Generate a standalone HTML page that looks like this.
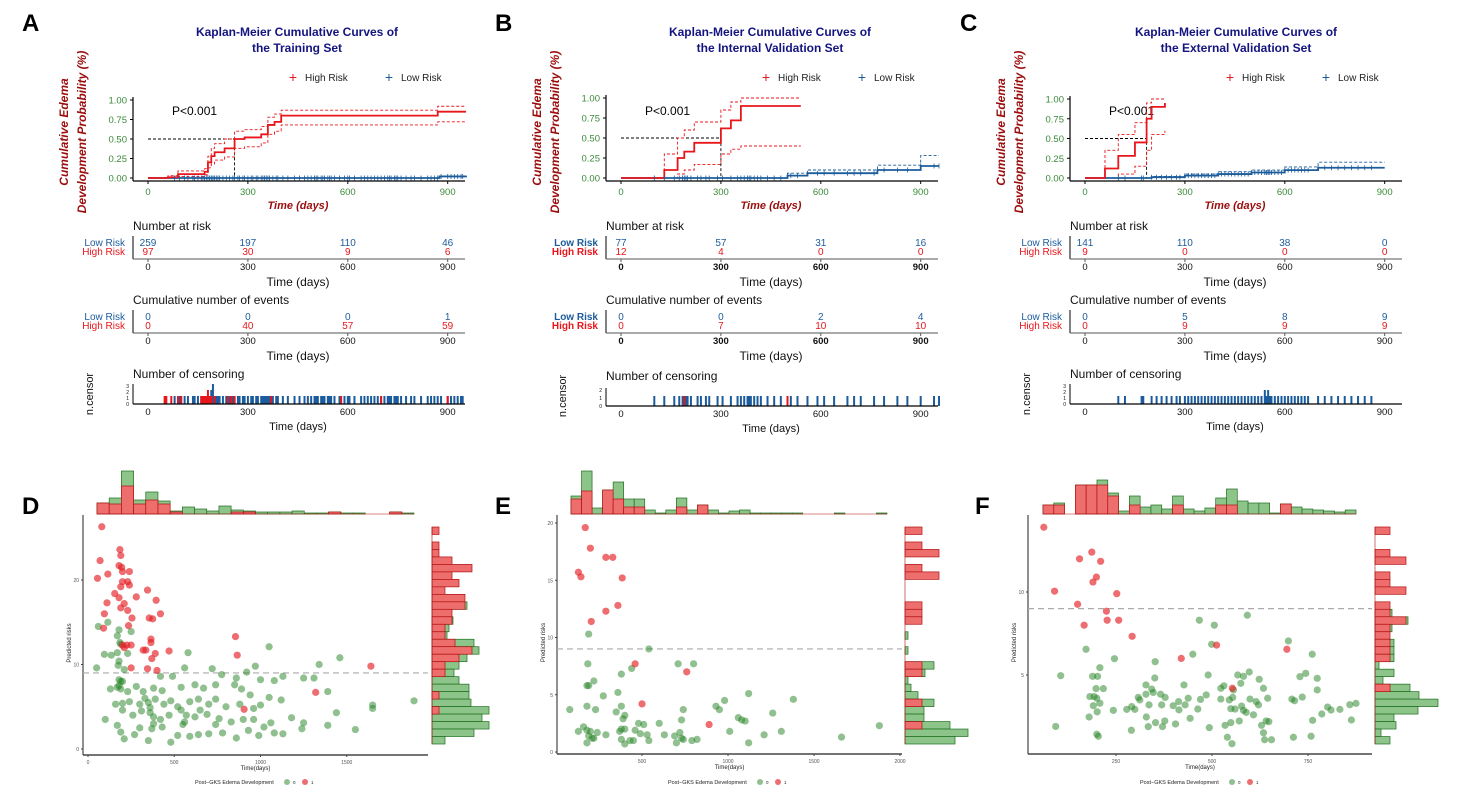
<!DOCTYPE html>
<html><head><meta charset="utf-8"><style>
html,body{margin:0;padding:0;background:#fff;}
svg{display:block;font-family:"Liberation Sans",Arial,sans-serif;}
</style></head><body>
<svg id="fig" width="1468" height="797" viewBox="0 0 1468 797" xmlns="http://www.w3.org/2000/svg">
<g font-weight="bold" font-size="24" fill="#000">
<text x="22" y="31">A</text>
<text x="495" y="31">B</text>
<text x="960" y="31">C</text>
<text x="22" y="514">D</text>
<text x="495" y="514">E</text>
<text x="975" y="514">F</text>
</g>
</svg>
<script>
// ---------- KM data ----------
const kmTitles = [["Kaplan-Meier Cumulative Curves of","the Training Set"],["Kaplan-Meier Cumulative Curves of","the Internal Validation Set"],["Kaplan-Meier Cumulative Curves of","the External Validation Set"]];
const yTicksKM = [0,0.25,0.5,0.75,1];
const yTickLabelsKM = ["0.00","0.25","0.50","0.75","1.00"];
const xTicksKM = [0,300,600,900];
const highA_t = [0,60,90,170,180,190,200,230,260,290,340,360,380,400,860,870,955];
const highA_p = [0,0.01,0.05,0.08,0.2,0.28,0.33,0.38,0.5,0.52,0.56,0.68,0.72,0.8,0.8,0.85,0.85];
const highA_up = [0,0.03,0.09,0.12,0.28,0.38,0.44,0.5,0.6,0.62,0.66,0.78,0.82,0.87,0.87,0.92,0.92];
const highA_lo = [0,0,0.02,0.04,0.13,0.18,0.23,0.27,0.38,0.4,0.45,0.56,0.6,0.68,0.68,0.72,0.72];
const lowA_t = [0,860,875,955]; const lowA_p = [0,0,0.02,0.03];
const highB_t = [0,130,170,190,220,300,330,360,540];
const highB_p = [0,0.1,0.25,0.33,0.44,0.62,0.72,0.9,0.9];
const highB_up = [0,0.3,0.5,0.6,0.7,0.85,0.95,1,1];
const highB_lo = [0,0,0.05,0.1,0.17,0.3,0.36,0.4,0.4];
const lowB_t = [0,500,560,770,900,955]; const lowB_p = [0,0.03,0.06,0.1,0.15,0.15];
const lowB_up = [0,0.06,0.1,0.16,0.28,0.28];
const highC_t = [0,60,100,150,185,200,240]; const highC_p = [0,0.12,0.28,0.45,0.75,0.9,0.95];
const highC_up = [0,0.35,0.55,0.7,0.95,1,1]; const highC_lo = [0,0,0.05,0.15,0.35,0.55,0.6];
const lowC_t = [0,200,300,400,500,600,700,900]; const lowC_p = [0,0.01,0.03,0.05,0.07,0.1,0.13,0.13];
const lowC_up = [0,0.02,0.05,0.08,0.1,0.14,0.2,0.2];
const medians = [260,300,185];
const riskLow = [[259,197,110,46],[77,57,31,16],[141,110,38,0]];
const riskHigh = [[97,30,9,6],[12,4,0,0],[9,0,0,0]];
const evLow = [[0,0,0,1],[0,0,2,4],[0,5,8,9]];
const evHigh = [[0,40,57,59],[0,7,10,10],[0,9,9,9]];
const censBlueA = [80,95,110,120,135,140,150,160,165,170,175,180,185,190,190,195,195,195,200,205,210,215,225,235,245,255,260,270,275,285,290,300,310,315,325,330,340,345,350,355,360,365,375,385,390,405,420,440,455,470,480,490,500,505,510,520,525,530,540,545,550,560,575,590,600,605,620,640,650,660,670,680,690,700,710,720,725,730,740,745,750,760,775,790,800,820,840,850,860,870,880,900,910,920,930,940,945];
const censRedA = [50,55,70,90,100,160,165,170,175,180,180,185,190,200,240,250,260,370,580,700,900];
const censBlueB = [100,130,160,175,185,190,195,200,210,230,240,255,265,290,305,330,350,360,370,380,385,390,400,410,420,440,460,480,500,510,530,560,590,610,640,680,700,720,760,790,830,860,900,940,955];
const censRedB = [190,500];
const censBlueC = [100,120,170,175,200,215,230,245,260,275,285,300,310,320,330,340,350,360,370,380,390,400,410,420,430,440,450,460,470,480,490,500,510,520,530,540,540,545,550,550,555,560,570,580,590,600,610,620,630,640,650,660,670,700,720,740,760,780,800,820,840,860];
const censRedC = [];

const NS="http://www.w3.org/2000/svg";
const fig=document.getElementById('fig');
function el(tag,attrs,parent,txt){const e=document.createElementNS(NS,tag);for(const k in attrs)e.setAttribute(k,attrs[k]);if(txt!==undefined)e.textContent=txt;(parent||fig).appendChild(e);return e;}
function stepPath(ts,ps,xs,ys){let d='M'+xs(ts[0])+','+ys(ps[0]);for(let i=1;i<ts.length;i++){d+=' H'+xs(ts[i])+' V'+ys(ps[i]);}return d;}

const kmCfg=[
 {ox:148,y1:100,hi:[highA_t,highA_p,highA_up,highA_lo],lo:[lowA_t,lowA_p,null],cb:censBlueA,cr:censRedA,cu:6,cmax:3,bold:false,title:297},
 {ox:621,y1:98,hi:[highB_t,highB_p,highB_up,highB_lo],lo:[lowB_t,lowB_p,lowB_up],cb:censBlueB,cr:censRedB,cu:8,cmax:2,bold:true,title:770},
 {ox:1085,y1:99,hi:[highC_t,highC_p,highC_up,highC_lo],lo:[lowC_t,lowC_p,lowC_up],cb:censBlueC,cr:censRedC,cu:6,cmax:3,bold:false,title:1236}
];
const RED="#e8161b",BLUE="#1c5c9c",GRN="#3a8a3a",DRED="#9b0d0d",NAVY="#141480";
kmCfg.forEach((c,pi)=>{
 const g=el('g',{});
 
 
 const xs=t=>c.ox+t*0.333, ys=p=>178-(178-c.y1)*p;
 const ax=c.ox-15, axR=c.ox+317;
 const tt=el('text',{x:c.title,y:36,'text-anchor':'middle','font-size':12,'font-weight':'bold',fill:NAVY},g,kmTitles[pi][0]);
 
 el('text',{x:c.title,y:52,'text-anchor':'middle','font-size':12,'font-weight':'bold',fill:NAVY},g,kmTitles[pi][1]);
 // legend
 const lg=el('g',{},g);
 el('text',{x:c.ox+145,y:82,'font-size':14,fill:RED,'text-anchor':'middle'},lg,'+');
 el('text',{x:c.ox+157,y:81,'font-size':10,fill:'#222'},lg,'High Risk');
 el('text',{x:c.ox+241,y:82,'font-size':14,fill:BLUE,'text-anchor':'middle'},lg,'+');
 el('text',{x:c.ox+253,y:81,'font-size':10,fill:'#222'},lg,'Low Risk');
 // y label
 const yl=el('text',{transform:`translate(${c.ox-80},132) rotate(-90)`,'text-anchor':'middle','font-size':12,'font-weight':'bold','font-style':'italic',fill:DRED},g,'Cumulative Edema');
 
 el('text',{transform:`translate(${c.ox-62},132) rotate(-90)`,'text-anchor':'middle','font-size':12,'font-weight':'bold','font-style':'italic',fill:DRED},g,'Development  Probability (%)');
 // axes
 el('line',{x1:ax,y1:c.y1-3,x2:ax,y2:181,stroke:'#000','stroke-width':1.2},g);
 el('line',{x1:ax,y1:181,x2:axR,y2:181,stroke:'#000','stroke-width':1.2},g);
 yTicksKM.forEach((v,i)=>{el('line',{x1:ax-3,y1:ys(v),x2:ax,y2:ys(v),stroke:'#000'},g);
  el('text',{x:ax-6,y:ys(v)+3.5,'text-anchor':'end','font-size':9.5,fill:GRN},g,yTickLabelsKM[i]);});
 xTicksKM.forEach(v=>{el('line',{x1:xs(v),y1:181,x2:xs(v),y2:184,stroke:'#000'},g);
  el('text',{x:xs(v),y:195,'text-anchor':'middle','font-size':9.5,fill:GRN},g,String(v));});
 el('text',{x:c.ox+150,y:209,'text-anchor':'middle','font-size':11,'font-weight':'bold','font-style':'italic',fill:DRED},g,'Time (days)');
 el('text',{x:c.ox+24,y:115,'font-size':12,fill:'#000'},g,'P<0.001');
 // median lines
 el('path',{d:`M${xs(0)},${ys(0.5)} H${xs(medians[pi])} V${ys(0)}`,fill:'none',stroke:'#000','stroke-dasharray':'3,2','stroke-width':0.9},g);
 // CIs
 const [ht,hp,hu,hl]=c.hi;
 el('path',{d:stepPath(ht,hu,xs,ys),fill:'none',stroke:RED,'stroke-dasharray':'3,2','stroke-width':0.9},g);
 el('path',{d:stepPath(ht,hl,xs,ys),fill:'none',stroke:RED,'stroke-dasharray':'3,2','stroke-width':0.9},g);
 const [lt,lp,lu]=c.lo;
 if(lu) el('path',{d:stepPath(lt,lu,xs,ys),fill:'none',stroke:BLUE,'stroke-dasharray':'3,2','stroke-width':0.9},g);
 const lpath=el('path',{d:stepPath(lt,lp,xs,ys),fill:'none',stroke:BLUE,'stroke-width':1.8},g);
 
 const hpath=el('path',{d:stepPath(ht,hp,xs,ys),fill:'none',stroke:RED,'stroke-width':1.8},g);
 
 // censor marks on low curve
 c.cb.forEach(t=>{ if(t>lt[lt.length-1])return; let p=0;for(let i=0;i<lt.length;i++)if(lt[i]<=t)p=lp[i];
  el('line',{x1:xs(t),y1:ys(p)-2.5,x2:xs(t),y2:ys(p)+2.5,stroke:BLUE,'stroke-width':0.8},g);});
 // tables
 const tbl=(yTitle,title,lowArr,highArr,nm)=>{
  const tg=el('g',{},g);
  el('text',{x:ax,y:yTitle,'font-size':12,fill:'#111'},tg,title);
  el('text',{x:ax-8,y:yTitle+16,'text-anchor':'end','font-size':10,fill:BLUE,'font-weight':c.bold?'bold':'normal'},tg,'Low Risk');
  el('text',{x:ax-8,y:yTitle+25,'text-anchor':'end','font-size':10,fill:RED,'font-weight':c.bold?'bold':'normal'},tg,'High Risk');
  el('line',{x1:ax,y1:yTitle+6,x2:ax,y2:yTitle+29,stroke:'#000'},tg);
  el('line',{x1:ax,y1:yTitle+29,x2:axR,y2:yTitle+29,stroke:'#555'},tg);
  xTicksKM.forEach((v,i)=>{
   el('text',{x:xs(v),y:yTitle+16,'text-anchor':'middle','font-size':10,fill:BLUE},tg,String(lowArr[i]));
   el('text',{x:xs(v),y:yTitle+25,'text-anchor':'middle','font-size':10,fill:RED},tg,String(highArr[i]));
   el('line',{x1:xs(v),y1:yTitle+29,x2:xs(v),y2:yTitle+32,stroke:'#555'},tg);
   el('text',{x:xs(v),y:yTitle+40,'text-anchor':'middle','font-size':9.5,fill:'#111','font-weight':c.bold?'bold':'normal'},tg,String(v));
  });
  el('text',{x:c.ox+150,y:yTitle+56,'text-anchor':'middle','font-size':12,fill:'#111'},tg,'Time  (days)');
 };
 tbl(230,'Number at risk',riskLow[pi],riskHigh[pi],'number-at-risk-table');
 tbl(304,'Cumulative  number of events',evLow[pi],evHigh[pi],'cumulative-events-table');
 // censoring
 const base=c.bold?406:404, cy0=c.bold?380:378;
 const cg=el('g',{},g);
 el('text',{x:ax,y:cy0,'font-size':12,fill:'#111'},cg,'Number of censoring');
 el('text',{transform:`translate(${ax-40},${base-10}) rotate(-90)`,'text-anchor':'middle','font-size':11,fill:'#111'},cg,'n.censor');
 for(let k=0;k<=c.cmax;k++){el('text',{x:ax-4,y:base-k*c.cu+2,'text-anchor':'end','font-size':5,fill:'#111'},cg,String(k));}
 el('line',{x1:ax,y1:base-c.cmax*c.cu-2,x2:ax,y2:base,stroke:'#000'},cg);
 const cnt=(arr)=>{const m={};arr.forEach(t=>{m[t]=(m[t]||0)+1;});return m;};
 const mb=cnt(c.cb), mr=cnt(c.cr);
 Object.keys(mb).forEach(t=>{const b=el('rect',{x:xs(+t)-1,y:base-mb[t]*c.cu-2,width:2,height:mb[t]*c.cu+2,fill:BLUE},cg);});
 Object.keys(mr).forEach(t=>{el('rect',{x:xs(+t)-1,y:base-mr[t]*c.cu-2,width:2,height:mr[t]*c.cu+2,fill:RED},cg);});
 el('line',{x1:ax,y1:base,x2:axR,y2:base,stroke:'#000','stroke-width':1.2},cg);
 xTicksKM.forEach(v=>{el('text',{x:xs(v),y:base+11,'text-anchor':'middle','font-size':9.5,fill:'#111'},cg,String(v));});
 el('text',{x:c.ox+150,y:base+26,'text-anchor':'middle','font-size':11,fill:'#111'},cg,'Time  (days)');
});

// ---------- Scatter data ----------
const redD=[[80,26.3],[70,22.3],[55,20.2],[115,20.7],[185,23.6],[190,22.9],[180,21.7],[195,21.5],[200,21.0],[240,21.0],[230,19.8],[240,19.4],[190,19.2],[200,19.8],[155,18.4],[180,17.9],[210,17.2],[110,17.3],[280,18.0],[345,18.8],[395,17.6],[190,16.7],[230,16.4],[95,16.0],[420,16.0],[255,15.5],[355,15.5],[375,15.4],[235,14.6],[90,14.3],[365,13.0],[365,12.6],[225,12.3],[250,12.3],[210,12.0],[335,11.7],[320,11.7],[470,11.6],[390,11.3],[370,10.7],[250,9.6],[345,9.5],[400,9.3],[855,13.3],[865,11.1],[1640,9.8],[1320,6.7],[905,4.7],[200,12.3]];
const greenD=[[50,9.6],[60,14.5],[115,15.0],[95,11.2],[135,11.1],[180,14.1],[170,13.4],[185,12.6],[190,12.4],[250,13.9],[170,11.4],[180,10.4],[175,9.9],[210,9.4],[230,11.3],[580,11.4],[1050,12.1],[1460,10.8],[1340,10.0],[970,9.8],[720,9.5],[560,9.6],[420,8.6],[490,8.6],[775,8.8],[920,9.1],[1130,8.6],[1250,8.4],[1310,8.4],[860,8.4],[1000,8.2],[1080,8.1],[180,8.2],[200,8.0],[170,7.3],[130,7.1],[190,7.1],[230,6.8],[280,7.4],[320,6.8],[380,7.2],[430,6.9],[540,7.3],[620,7.6],[670,7.2],[740,7.6],[850,7.6],[890,7.1],[940,6.4],[1050,6.1],[1390,6.8],[1890,5.7],[1650,5.2],[1120,5.8],[1000,5.2],[960,4.8],[880,5.3],[800,5.0],[740,5.9],[700,5.3],[640,5.9],[590,5.6],[520,5.0],[480,5.7],[440,5.3],[390,5.9],[350,5.5],[330,6.0],[300,5.3],[240,5.6],[200,5.4],[160,5.3],[200,4.6],[260,4.0],[310,4.5],[360,4.3],[380,3.8],[420,3.5],[470,4.0],[540,4.6],[570,4.0],[620,3.8],[690,4.1],[760,3.6],[830,3.2],[900,3.5],[960,3.5],[1060,3.1],[1180,3.7],[1250,3.1],[1440,4.3],[1390,2.8],[1550,2.3],[1650,4.8],[1240,2.4],[1130,1.8],[1080,1.9],[1020,2.6],[990,1.6],[930,2.2],[860,1.3],[780,1.9],[740,2.9],[700,1.8],[640,1.7],[590,1.5],[550,2.9],[520,1.6],[480,0.8],[430,2.6],[370,2.4],[350,1.0],[300,2.5],[270,1.7],[210,1.2],[190,2.0],[170,2.8],[100,3.5],[180,7.5],[190,8.0],[360,4.9],[380,3.0],[560,3.2],[650,4.6]];
const redE=[[170,19.6],[200,17.8],[290,17.0],[330,17.0],[130,15.7],[145,15.3],[385,15.2],[360,12.8],[290,12.3],[205,11.4],[460,7.7],[760,7.0],[500,4.2],[890,2.4]];
const greenE=[[190,10.3],[540,9.0],[185,7.7],[710,7.7],[800,7.7],[440,7.3],[380,6.8],[220,6.2],[180,5.8],[190,5.8],[360,5.2],[275,4.9],[1120,5.1],[1380,4.6],[980,4.5],[930,4.0],[950,3.7],[740,3.7],[180,4.0],[230,3.7],[80,3.7],[380,4.0],[350,3.5],[400,3.2],[390,2.9],[1060,3.0],[1260,3.4],[1100,2.7],[1080,2.8],[730,2.8],[600,2.5],[480,2.5],[510,2.4],[160,2.2],[180,1.9],[200,1.8],[130,1.8],[240,1.7],[290,1.5],[380,2.0],[400,2.0],[370,1.8],[460,1.9],[490,1.6],[530,1.5],[630,1.5],[690,1.4],[720,1.7],[730,1.2],[740,1.1],[820,1.1],[790,1.0],[1010,1.8],[1310,1.8],[1210,1.5],[1660,1.3],[1880,2.3],[220,1.2],[190,1.4],[380,1.1],[450,1.0],[430,1.0],[540,1.0],[180,0.8],[400,0.7],[700,0.8],[1120,0.8],[210,1.2]];
const redF=[[62,13.9],[90,10.05],[155,12.0],[187,12.4],[210,11.85],[199,10.9],[190,10.6],[150,9.26],[252,9.9],[225,8.84],[227,8.3],[257,8.3],[167,8.0],[292,7.33],[420,6.0],[512,6.8],[695,6.55],[553,4.2]];
const greenF=[[592,8.6],[467,8.3],[506,8.0],[499,6.85],[699,7.05],[172,6.55],[246,5.98],[352,5.8],[450,6.25],[761,6.25],[208,5.44],[106,4.96],[189,4.92],[202,4.92],[351,4.82],[490,5.0],[567,5.0],[582,4.92],[597,5.18],[623,4.74],[729,4.9],[744,5.1],[774,4.8],[198,4.18],[217,4.18],[328,4.4],[343,4.15],[347,3.95],[427,4.4],[523,4.2],[531,4.35],[556,4.1],[575,4.5],[634,4.2],[774,4.1],[182,3.7],[193,3.7],[200,3.6],[208,3.3],[191,3.15],[201,2.78],[243,2.87],[180,2.47],[93,1.9],[200,1.43],[204,1.31],[278,2.93],[291,3.1],[299,2.93],[308,3.65],[312,3.5],[328,3.84],[336,3.2],[366,3.84],[378,3.65],[369,3.2],[399,3.15],[413,3.4],[414,2.9],[430,3.2],[438,3.6],[463,2.95],[470,3.53],[485,3.8],[329,2.47],[353,2.13],[377,2.23],[405,2.05],[443,2.39],[334,1.89],[371,1.89],[290,1.67],[493,1.83],[534,1.97],[549,2.13],[571,2.23],[523,3.55],[545,3.5],[554,3.65],[549,2.97],[560,2.95],[577,3.13],[582,2.87],[589,2.75],[608,2.6],[599,3.55],[615,3.4],[621,3.2],[645,3.6],[708,3.55],[715,3.45],[735,3.67],[629,1.97],[641,2.23],[648,2.19],[634,1.52],[637,1.1],[655,1.1],[712,1.25],[758,1.31],[762,2.27],[786,2.65],[801,3.07],[810,2.89],[833,2.93],[859,3.21],[875,3.29],[863,2.29],[540,1.25],[552,0.86]];
const cutoffs=[9,9,9];
const xTicksD=[0,500,1000,1500], xTicksE=[500,1000,1500,2000], xTicksF=[250,500,750];
const yTicksD=[0,10,20], yTicksE=[0,5,10,15,20], yTicksF=[5,10];
const topGreenD=[11,16,43,14,22,13,3,7,5,3,8,4,3,2,2,2,3,1,1,2,1,1,0,0,2,1];
const topRedD=[11,10,28,10,14,10,2,0,0,0,0,2,2,0,0,0,0,0,0,2,0,0,0,0,2,0];
const topGreenE=[18,43,6,24,32,15,15,4,1,4,16,4,9,4,1,3,4,1,1,1,1,1,0,0,0,1,0,0,0,1];
const topRedE=[15,23,0,24,15,7,7,0,0,0,7,0,9,0,0,0,0,0,0,0,0,0,0,0,0,0,0,0,0,0];
const topGreenF=[9,11,0,29,29,34,21,3,18,7,9,5,18,5,3,6,16,25,13,11,11,1,10,7,5,4,3,2,4];
const topRedF=[9,9,0,29,29,29,18,0,9,0,0,0,9,0,0,0,9,9,0,0,0,0,10,0,0,0,0,0,0];
// right histograms listed top -> bottom
const rGreenD=[0,0,0,0,0,0,0,0,0,0,35,0,21,17,15,42,47,35,27,22,27,37,37,39,57,50,57,42,13];
const rRedD=[7,0,7,7,20,40,20,27,13,33,33,20,20,13,13,23,40,27,13,13,0,0,7,0,7,0,0,0,0];
const rGreenE=[0,0,0,0,0,0,0,0,0,0,0,0,0,0,3,0,3,0,29,20,3,6,13,29,19,19,45,63,50];
const rRedE=[17,0,17,34,0,17,34,0,0,0,17,17,17,0,0,0,0,0,17,17,0,0,0,17,0,0,17,0,0];
const rGreenF=[0,0,0,0,0,0,0,0,0,0,0,17,33,17,0,19,19,19,4,19,8,35,44,63,43,19,21,6,15];
const rRedF=[15,0,0,15,31,0,15,15,31,0,15,15,31,15,15,15,15,15,0,0,0,15,0,0,0,0,0,0,0];

const scCfg=[
 {name:'d',red:redD,green:greenD,x0:88,xk:0.1725,y0:749,yk:8.45,L:83,R:428,B:755,T:515,xt:xTicksD,yt:yTicksD,
  top:[97,414,514,topGreenD,topRedD],right:[432,527,744,rGreenD,rRedD],leg:195},
 {name:'e',red:redE,green:greenE,x0:556,xk:0.172,y0:752,yk:11.45,L:557,R:902,B:754,T:515,xt:xTicksE,yt:yTicksE,
  top:[571,887,514,topGreenE,topRedE],right:[905,527,744,rGreenE,rRedE],leg:668},
 {name:'f',red:redF,green:greenF,x0:1020,xk:0.384,y0:758,yk:16.6,L:1028,R:1372,B:754,T:515,xt:xTicksF,yt:yTicksF,
  top:[1043,1356,514,topGreenF,topRedF],right:[1375,527,744,rGreenF,rRedF],leg:1140}
];
const HG="#8cc48a",HGS="#1f6f1f",HR="#ee6e6e",HRS="#b01010";
scCfg.forEach((c,pi)=>{
 const g=el('g',{});
 
 
 const xs=t=>c.x0+t*c.xk, ys=v=>c.y0-v*c.yk;
 // top hist
 const [hx0,hx1,hb,tg,tr]=c.top; const bw=(hx1-hx0)/tg.length;
 const th=el('g',{},g);
 tg.forEach((v,i)=>{ if(v>0){const r=el('rect',{x:hx0+i*bw,y:hb-v,width:bw,height:v,fill:HG,stroke:HGS,'stroke-width':0.7},th);} });
 tr.forEach((v,i)=>{ if(v>0){el('rect',{x:hx0+i*bw,y:hb-v,width:bw,height:v,fill:HR,stroke:HRS,'stroke-width':0.7},th);} });
 el('line',{x1:hx0,y1:hb,x2:hx1,y2:hb,stroke:HRS,'stroke-width':0.6},th);
 // right hist
 const [rx,ry0,ry1,rg,rr]=c.right; const bh=(ry1-ry0)/rg.length;
 const rh=el('g',{},g);
 rg.forEach((v,i)=>{ if(v>0){el('rect',{x:rx,y:ry0+i*bh,width:v,height:bh,fill:HG,stroke:HGS,'stroke-width':0.7},rh);} });
 rr.forEach((v,i)=>{ if(v>0){el('rect',{x:rx,y:ry0+i*bh,width:v,height:bh,fill:HR,stroke:HRS,'stroke-width':0.7},rh);} });
 el('line',{x1:rx,y1:ry0,x2:rx,y2:ry1,stroke:HRS,'stroke-width':0.6},rh);
 // axes
 el('line',{x1:c.L,y1:c.T,x2:c.L,y2:c.B,stroke:'#222','stroke-width':1},g);
 el('line',{x1:c.L,y1:c.B,x2:c.R,y2:c.B,stroke:'#222','stroke-width':1.2},g);
 c.xt.forEach(v=>{el('line',{x1:xs(v),y1:c.B,x2:xs(v),y2:c.B+2,stroke:'#444'},g);
  el('text',{x:xs(v),y:c.B+9,'text-anchor':'middle','font-size':5,fill:'#555'},g,String(v));});
 c.yt.forEach(v=>{el('line',{x1:c.L-2,y1:ys(v),x2:c.L,y2:ys(v),stroke:'#444'},g);
  el('text',{x:c.L-4,y:ys(v)+2,'text-anchor':'end','font-size':5,fill:'#555'},g,String(v));});
 el('text',{x:(c.L+c.R)/2,y:c.B+15,'text-anchor':'middle','font-size':6,fill:'#222'},g,'Time(days)');
 el('text',{transform:`translate(${c.L-12},${(c.T+c.B)/2+8}) rotate(-90)`,'text-anchor':'middle','font-size':6,fill:'#222'},g,'Predicted risks');
 // cutoff
 const cl=el('line',{x1:c.L,y1:ys(cutoffs[pi]),x2:c.R,y2:ys(cutoffs[pi]),stroke:'#aaa','stroke-width':1.2,'stroke-dasharray':'6,4'},g);
 
 // points
 c.green.forEach(p=>{const d=el('circle',{cx:xs(p[0]),cy:ys(p[1]),r:3.6,fill:'rgba(34,130,34,0.5)'},g);
  });
 c.red.forEach(p=>{const d=el('circle',{cx:xs(p[0]),cy:ys(p[1]),r:3.6,fill:'rgba(228,30,36,0.65)'},g);
  });
 // legend
 const lg=el('g',{},g);
 el('text',{x:c.leg,y:784,'font-size':5.5,fill:'#222'},lg,'Post−GKS Edema Development');
 el('circle',{cx:c.leg+92,cy:782,r:3,fill:'rgba(34,130,34,0.5)'},lg);
 el('text',{x:c.leg+98,y:784,'font-size':4.5,fill:'#222'},lg,'0');
 el('circle',{cx:c.leg+110,cy:782,r:3,fill:'rgba(228,30,36,0.65)'},lg);
 el('text',{x:c.leg+116,y:784,'font-size':4.5,fill:'#222'},lg,'1');
});
</script>
</body></html>
